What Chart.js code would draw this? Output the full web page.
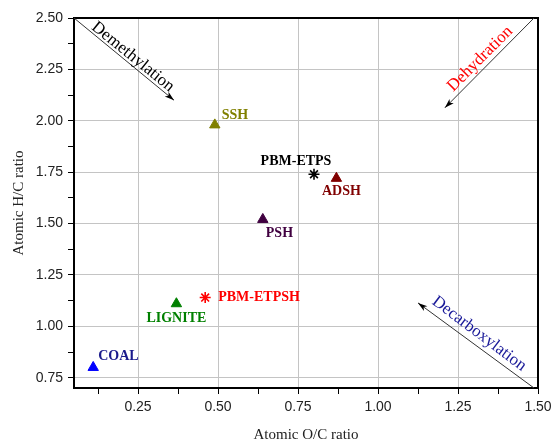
<!DOCTYPE html>
<html>
<head>
<meta charset="utf-8">
<script src="https://cdn.jsdelivr.net/npm/chart.js@4"></script>
<style>
  html, body { margin: 0; padding: 0; background: #fff; }
  canvas { display: block; }
</style>
</head>
<body>
<canvas id="vk" width="552" height="444"></canvas>
<script>
// samples (van Krevelen)
const sampleNames = ['COAL', 'LIGNITE', 'PBM-ETPSH', 'SSH', 'PSH', 'PBM-ETPS', 'ADSH'];
const ocRatio = [0.11, 0.37, 0.46, 0.49, 0.64, 0.80, 0.87];
const hcRatio = [0.80, 1.11, 1.14, 1.98, 1.52, 1.74, 1.72];
const markerColors = ['#0000ff', '#008000', '#ff0000', '#808000', '#400040', '#000000', '#800000'];
const labelColors = ['#1a1a8c', '#008000', '#ff0000', '#808000', '#400040', '#000000', '#800000'];
const markerStyles = ['triangle', 'triangle', 'star', 'triangle', 'triangle', 'star', 'triangle'];
// label offsets in px from the marker: [dx, dy, align]
const labelOffsets = [[5, -11, 'left'], [0, 15, 'center'], [13, 0, 'left'], [7, -9, 'left'],
                      [3, 14, 'left'], [-18, -13, 'center'], [5, 13, 'center']];

const xMajor = [0.25, 0.50, 0.75, 1.00, 1.25, 1.50];
const xMinor = [0.125, 0.375, 0.625, 0.875, 1.125, 1.375];
const yMajor = [0.75, 1.00, 1.25, 1.50, 1.75, 2.00, 2.25, 2.50];
const yMinor = [0.875, 1.125, 1.375, 1.625, 1.875, 2.125, 2.375];

// trend arrows: from, to, label position, text, colour, angle
const arrows = [
    { from: [0.05, 2.50], to: [0.3625, 2.10], text: 'Demethylation', at: [0.234, 2.311], color: '#000000', angle: 39 },
    { from: [1.4875, 2.50], to: [1.209, 2.063], text: 'Dehydration', at: [1.319, 2.301], color: '#ff0000', angle: -45 },
    { from: [1.4875, 0.70], to: [1.125, 1.114], text: 'Decarboxylation', at: [1.316, 0.964], color: '#1a1a99', angle: 37 }
];

const isMajor = (v, list) => list.some(m => Math.abs(m - v) < 1e-6);

const datasets = sampleNames.map((name, i) => ({
    label: name,
    data: [{ x: ocRatio[i], y: hcRatio[i] }],
    pointStyle: markerStyles[i],
    radius: markerStyles[i] === 'star' ? 5.5 : 6,
    backgroundColor: markerColors[i],
    borderColor: markerColors[i],
    borderWidth: markerStyles[i] === 'star' ? 1.6 : 1
}));

const decorPlugin = {
    id: 'decor',
    afterDatasetsDraw(chart) {
        const ctx = chart.ctx;
        const xs = chart.scales.x, ys = chart.scales.y;
        const area = chart.chartArea;

        // frame
        ctx.save();
        ctx.strokeStyle = '#000';
        ctx.lineWidth = 2;
        ctx.strokeRect(area.left, area.top, area.right - area.left, area.bottom - area.top);
        ctx.restore();

        // point labels
        ctx.save();
        ctx.font = 'bold 14px "Liberation Serif", "Times New Roman", serif';
        ctx.textBaseline = 'middle';
        sampleNames.forEach((name, i) => {
            const px = xs.getPixelForValue(ocRatio[i]);
            const py = ys.getPixelForValue(hcRatio[i]);
            const off = labelOffsets[i];
            ctx.fillStyle = labelColors[i];
            ctx.textAlign = off[2];
            ctx.fillText(name, px + off[0], py + off[1]);
        });
        ctx.restore();

        // arrows
        arrows.forEach(a => {
            const x1 = xs.getPixelForValue(a.from[0]), y1 = ys.getPixelForValue(a.from[1]);
            const x2 = xs.getPixelForValue(a.to[0]), y2 = ys.getPixelForValue(a.to[1]);
            const ang = Math.atan2(y2 - y1, x2 - x1);
            ctx.save();
            ctx.strokeStyle = '#333';
            ctx.fillStyle = '#000';
            ctx.lineWidth = 1;
            ctx.beginPath();
            ctx.moveTo(x1, y1);
            ctx.lineTo(x2, y2);
            ctx.stroke();
            ctx.beginPath();
            ctx.moveTo(x2, y2);
            ctx.lineTo(x2 - 10 * Math.cos(ang - 0.3), y2 - 10 * Math.sin(ang - 0.3));
            ctx.lineTo(x2 - 7 * Math.cos(ang), y2 - 7 * Math.sin(ang));
            ctx.lineTo(x2 - 10 * Math.cos(ang + 0.3), y2 - 10 * Math.sin(ang + 0.3));
            ctx.closePath();
            ctx.fill();

            const tx = xs.getPixelForValue(a.at[0]), ty = ys.getPixelForValue(a.at[1]);
            ctx.translate(tx, ty);
            ctx.rotate(a.angle * Math.PI / 180);
            ctx.font = '17px "Liberation Serif", "Times New Roman", serif';
            ctx.fillStyle = a.color;
            ctx.textAlign = 'center';
            ctx.textBaseline = 'middle';
            ctx.fillText(a.text, 0, 0);
            ctx.restore();
        });
    }
};

new Chart(document.getElementById('vk'), {
    type: 'scatter',
    data: { datasets: datasets },
    options: {
        responsive: false,
        animation: false,
        layout: { padding: { top: 18, right: 14, left: 0, bottom: 0 } },
        plugins: { legend: { display: false }, tooltip: { enabled: false } },
        scales: {
            x: {
                type: 'linear',
                min: 0.05,
                max: 1.5,
                afterBuildTicks: axis => {
                    axis.ticks = xMajor.concat(xMinor).sort((a, b) => a - b).map(v => ({ value: v }));
                },
                afterFit: axis => { axis.height = 56; axis.paddingRight = 0; axis.paddingLeft = 0; },
                border: { display: true, color: '#000', width: 2 },
                grid: {
                    color: c => isMajor(c.tick.value, xMajor) ? '#c4c4c4' : 'rgba(0,0,0,0)',
                    tickColor: '#000',
                    tickLength: 6,
                    drawOnChartArea: true
                },
                ticks: {
                    color: '#222',
                    font: { family: '"Liberation Sans", Arial, sans-serif', size: 14 },
                    padding: 5,
                    maxRotation: 0,
                    autoSkip: false,
                    callback: v => isMajor(v, xMajor) ? v.toFixed(2) : ''
                },
                title: {
                    display: true,
                    text: 'Atomic O/C ratio',
                    color: '#222',
                    font: { family: '"Liberation Serif", "Times New Roman", serif', size: 15 },
                    padding: { top: 4, bottom: 0 }
                }
            },
            y: {
                type: 'linear',
                min: 0.70,
                max: 2.50,
                afterBuildTicks: axis => {
                    axis.ticks = yMajor.concat(yMinor).sort((a, b) => a - b).map(v => ({ value: v }));
                },
                afterFit: axis => { axis.width = 74; axis.paddingTop = 0; axis.paddingBottom = 0; },
                border: { display: true, color: '#000', width: 2 },
                grid: {
                    color: c => isMajor(c.tick.value, yMajor) ? '#c4c4c4' : 'rgba(0,0,0,0)',
                    tickColor: '#000',
                    tickLength: 6
                },
                ticks: {
                    color: '#222',
                    font: { family: '"Liberation Sans", Arial, sans-serif', size: 14 },
                    padding: 5,
                    autoSkip: false,
                    callback: v => isMajor(v, yMajor) ? v.toFixed(2) : ''
                },
                title: {
                    display: true,
                    text: 'Atomic H/C ratio',
                    color: '#222',
                    font: { family: '"Liberation Serif", "Times New Roman", serif', size: 15 },
                    padding: { top: 10, bottom: 0 }
                }
            }
        }
    },
    plugins: [decorPlugin]
});
</script>
</body>
</html>
